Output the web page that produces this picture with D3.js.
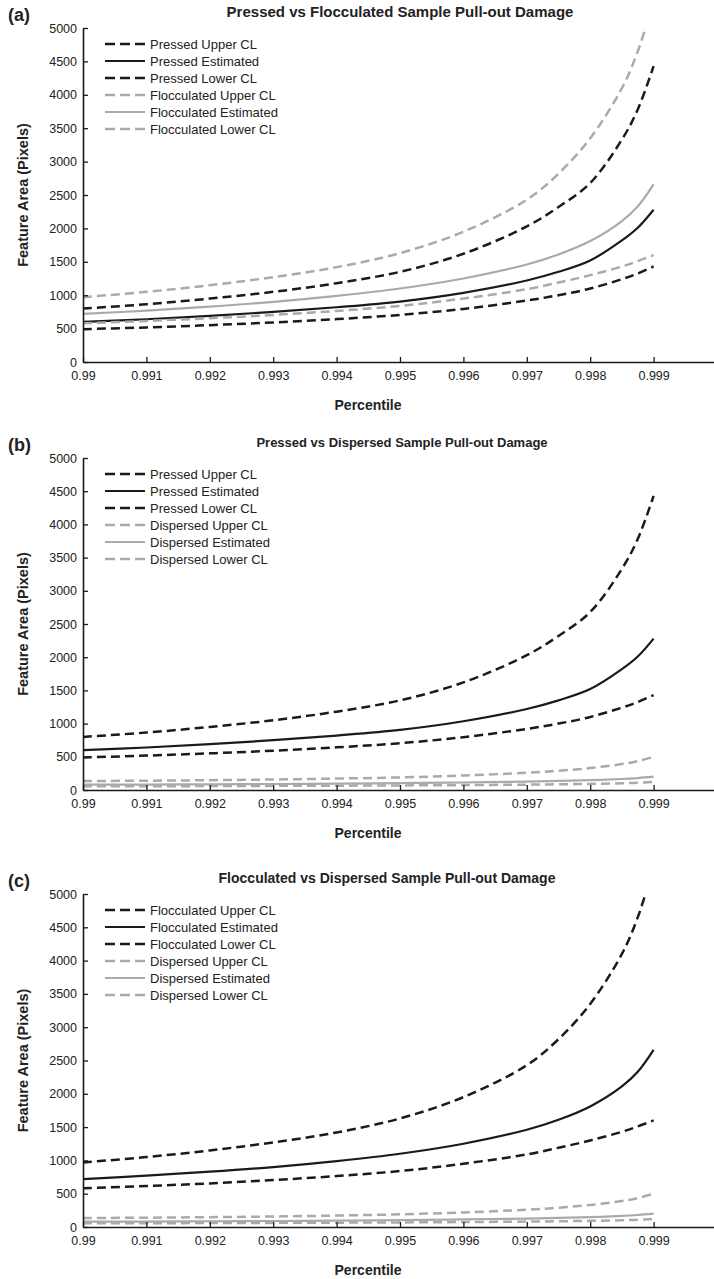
<!DOCTYPE html>
<html>
<head>
<meta charset="utf-8">
<script src="https://cdn.jsdelivr.net/npm/d3@7"></script>
<style>
  body { margin: 0; background: #fff; }
  svg { display: block; font-family: "Liberation Sans", Arial, sans-serif; }
</style>
</head>
<body>
<svg id="chart" width="714" height="1279"></svg>
<script>
// percentile grid (denser near the tail)
const percentiles = [0.990, 0.991, 0.992, 0.993, 0.994, 0.995, 0.996, 0.997, 0.9975, 0.998, 0.9985, 0.99875, 0.999];

const pressedUpper = [800, 865, 950, 1050, 1180, 1350, 1620, 2030, 2320, 2680, 3330, 3780, 4430];
const pressedEst   = [600, 640, 690, 750, 820, 905, 1035, 1220, 1350, 1520, 1820, 2010, 2280];
const pressedLower = [490, 518, 552, 592, 642, 705, 795, 920, 1000, 1100, 1240, 1325, 1430];

const floccUpper = [970, 1050, 1150, 1270, 1420, 1630, 1950, 2430, 2820, 3350, 4100, 4650, 5400];
const floccEst   = [720, 770, 830, 900, 990, 1100, 1250, 1460, 1610, 1810, 2110, 2330, 2660];
const floccLower = [580, 615, 655, 705, 765, 840, 950, 1090, 1190, 1300, 1430, 1510, 1600];

const dispUpper = [135, 140, 148, 158, 172, 190, 218, 260, 290, 330, 390, 435, 500];
const dispEst   = [80, 82, 86, 90, 96, 103, 113, 127, 136, 148, 166, 180, 200];
const dispLower = [55, 57, 59, 62, 65, 69, 74, 81, 86, 92, 101, 109, 120];

const xTicks = [0.990, 0.991, 0.992, 0.993, 0.994, 0.995, 0.996, 0.997, 0.998, 0.999];
const yTicks = [0, 500, 1000, 1500, 2000, 2500, 3000, 3500, 4000, 4500, 5000];

const panels = [
  { tag: "(a)", title: "Pressed vs Flocculated Sample Pull-out Damage", titleSize: 15, titleX: 400, top: 28, bottom: 362,
    series: [
      { name: "Pressed Upper CL", values: pressedUpper, color: "#1a1a1a", dash: true },
      { name: "Pressed Estimated", values: pressedEst, color: "#1a1a1a", dash: false },
      { name: "Pressed Lower CL", values: pressedLower, color: "#1a1a1a", dash: true },
      { name: "Flocculated Upper CL", values: floccUpper, color: "#aaaaaa", dash: true },
      { name: "Flocculated Estimated", values: floccEst, color: "#aaaaaa", dash: false },
      { name: "Flocculated Lower CL", values: floccLower, color: "#aaaaaa", dash: true }
    ] },
  { tag: "(b)", title: "Pressed vs Dispersed Sample Pull-out Damage", titleSize: 13, titleX: 402, top: 458, bottom: 790,
    series: [
      { name: "Pressed Upper CL", values: pressedUpper, color: "#1a1a1a", dash: true },
      { name: "Pressed Estimated", values: pressedEst, color: "#1a1a1a", dash: false },
      { name: "Pressed Lower CL", values: pressedLower, color: "#1a1a1a", dash: true },
      { name: "Dispersed Upper CL", values: dispUpper, color: "#aaaaaa", dash: true },
      { name: "Dispersed Estimated", values: dispEst, color: "#aaaaaa", dash: false },
      { name: "Dispersed Lower CL", values: dispLower, color: "#aaaaaa", dash: true }
    ] },
  { tag: "(c)", title: "Flocculated vs Dispersed Sample Pull-out Damage", titleSize: 14, titleX: 387, top: 894, bottom: 1227,
    series: [
      { name: "Flocculated Upper CL", values: floccUpper, color: "#1a1a1a", dash: true },
      { name: "Flocculated Estimated", values: floccEst, color: "#1a1a1a", dash: false },
      { name: "Flocculated Lower CL", values: floccLower, color: "#1a1a1a", dash: true },
      { name: "Dispersed Upper CL", values: dispUpper, color: "#aaaaaa", dash: true },
      { name: "Dispersed Estimated", values: dispEst, color: "#aaaaaa", dash: false },
      { name: "Dispersed Lower CL", values: dispLower, color: "#aaaaaa", dash: true }
    ] }
];

const svg = d3.select("#chart");
const left = 83, right = 717;
const x_scale = d3.scaleLinear().domain([0.99, 1.0]).range([left, right]);

panels.forEach((p, i) => {
  const y_scale = d3.scaleLinear().domain([0, 5000]).range([p.bottom, p.top]);
  const g = svg.append("g");

  // clip the curves to the axes box
  svg.append("clipPath").attr("id", "clip" + i)
    .append("rect")
    .attr("x", left).attr("y", p.top)
    .attr("width", right - left).attr("height", p.bottom - p.top);

  const line = d3.line()
    .x((d, k) => x_scale(percentiles[k]))
    .y(d => y_scale(d))
    .curve(d3.curveCatmullRom.alpha(0.5));

  g.append("g").attr("clip-path", `url(#clip${i})`)
    .selectAll("path")
    .data(p.series)
    .join("path")
    .attr("d", d => line(d.values))
    .attr("fill", "none")
    .attr("stroke", d => d.color)
    .attr("stroke-width", d => d.dash ? 2.5 : 2.2)
    .attr("stroke-dasharray", d => d.dash ? "9,5" : null);

  // x axis (ticks point inward)
  const x_axis = g.append("g")
    .attr("transform", `translate(0,${p.bottom})`)
    .call(d3.axisBottom(x_scale).tickValues(xTicks).tickSizeInner(-5).tickSizeOuter(0)
      .tickFormat(d => d3.format(".3~f")(d)));
  x_axis.select(".domain").attr("stroke", "#1a1a1a").attr("stroke-width", 1.6);
  x_axis.selectAll(".tick line").attr("stroke", "#1a1a1a").attr("stroke-width", 1.3);
  x_axis.selectAll(".tick text").attr("y", 9).attr("font-size", 12.5).attr("fill", "#222")
    .attr("font-family", "Liberation Sans, Arial, sans-serif");

  // y axis
  const y_axis = g.append("g")
    .attr("transform", `translate(${left},0)`)
    .call(d3.axisLeft(y_scale).tickValues(yTicks).tickSizeInner(-5).tickSizeOuter(0)
      .tickFormat(d3.format("d")));
  y_axis.select(".domain").attr("stroke", "#1a1a1a").attr("stroke-width", 1.6);
  y_axis.selectAll(".tick line").attr("stroke", "#1a1a1a").attr("stroke-width", 1.3);
  y_axis.selectAll(".tick text").attr("x", -6).attr("font-size", 12.5).attr("fill", "#222")
    .attr("font-family", "Liberation Sans, Arial, sans-serif");

  // legend
  const legend = g.append("g").selectAll("g")
    .data(p.series)
    .join("g")
    .attr("transform", (d, k) => `translate(105,${p.top + 16 + k * 17})`);
  legend.append("line")
    .attr("x1", 0).attr("x2", 40).attr("y1", 0).attr("y2", 0)
    .attr("stroke", d => d.color)
    .attr("stroke-width", d => d.dash ? 2.5 : 2.2)
    .attr("stroke-dasharray", d => d.dash ? "10,5" : null);
  legend.append("text")
    .attr("x", 45).attr("y", 4.5)
    .attr("font-size", 13).attr("fill", "#222")
    .text(d => d.name);

  // panel tag and title
  g.append("text")
    .attr("x", 8).attr("y", p.top - 7)
    .attr("font-size", 18).attr("font-weight", "bold").attr("fill", "#222")
    .text(p.tag);
  g.append("text")
    .attr("x", p.titleX).attr("y", p.top - 11)
    .attr("text-anchor", "middle")
    .attr("font-size", p.titleSize).attr("font-weight", "bold").attr("fill", "#222")
    .text(p.title);

  // axis labels
  g.append("text")
    .attr("x", 368).attr("y", p.bottom + 48)
    .attr("text-anchor", "middle")
    .attr("font-size", 14).attr("font-weight", "bold").attr("fill", "#222")
    .text("Percentile");
  g.append("text")
    .attr("transform", `translate(28,${(p.top + p.bottom) / 2}) rotate(-90)`)
    .attr("text-anchor", "middle")
    .attr("font-size", 14.5).attr("font-weight", "bold").attr("fill", "#222")
    .text("Feature Area (Pixels)");
});
</script>
</body>
</html>
